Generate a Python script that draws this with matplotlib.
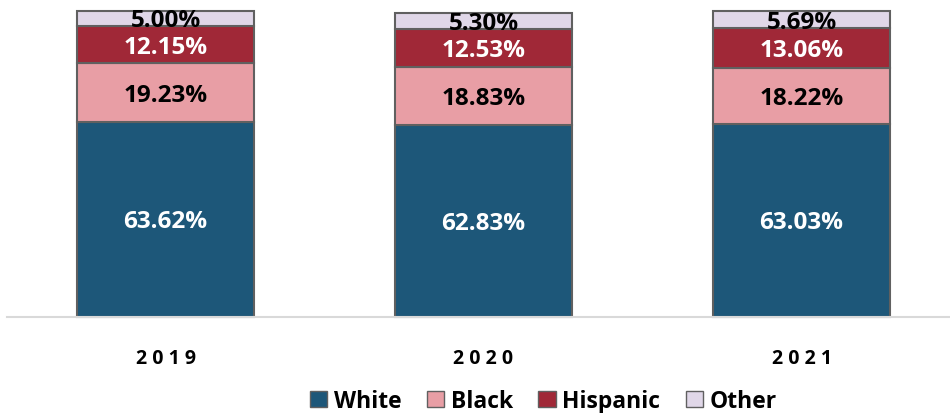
import numpy as np
from matplotlib import pyplot as plt
from matplotlib.patches import Patch

years = ["2019", "2020", "2021"]
white = [63.62, 62.83, 63.03]
black = [19.23, 18.83, 18.22]
hispanic = [12.15, 12.53, 13.06]
other = [5.00, 5.30, 5.69]

series = [("White", white, "#1d5779", "white"),
          ("Black", black, "#e89ea5", "black"),
          ("Hispanic", hispanic, "#a02837", "white"),
          ("Other", other, "#e0d7e8", "black")]

plt.rcParams['font.family'] = ['Open Sans', 'DejaVu Sans']

fig = plt.figure(figsize=(9.5, 4.14), dpi=100)
ax = fig.add_axes([6.5 / 950, 96 / 414, 954 / 950, 306 / 414])

x = np.arange(len(years))
bottom = np.zeros(len(years))
for name, vals, color, tcolor in series:
    vals = np.array(vals)
    ax.bar(x, vals, 0.557, bottom=bottom, color=color, edgecolor="#606060",
           linewidth=1.5, label=name, clip_on=False)
    for xi, b, v in zip(x, bottom, vals):
        ax.text(xi, b + v / 2 - 0.6, f"{v:.2f}%", ha="center", va="center",
                color=tcolor, fontsize=17.5, fontweight="bold")
    bottom += vals

ax.set_xlim(-0.5, 2.5)
ax.set_ylim(0, 100)
for s in ["top", "right", "left"]:
    ax.spines[s].set_visible(False)
ax.spines["bottom"].set_color("#d9d9d9")
ax.spines["bottom"].set_linewidth(1.5)
ax.set_yticks([])
ax.set_xticks(x)
ax.set_xticklabels([" ".join(list(y)) for y in years], fontsize=14, fontweight="bold")
ax.tick_params(axis="x", length=0, pad=22)

handles = [Patch(facecolor=c, edgecolor="#606060", label=n) for n, _, c, _ in series]
fig.legend(handles=handles, loc="lower center", bbox_to_anchor=(0.572, -0.05), ncol=4,
           frameon=False, prop={"weight": "bold", "size": 16.5}, handlelength=0.75,
           handleheight=0.75, handletextpad=0.3, columnspacing=1.1)

fig.savefig("out.png", dpi=100)
